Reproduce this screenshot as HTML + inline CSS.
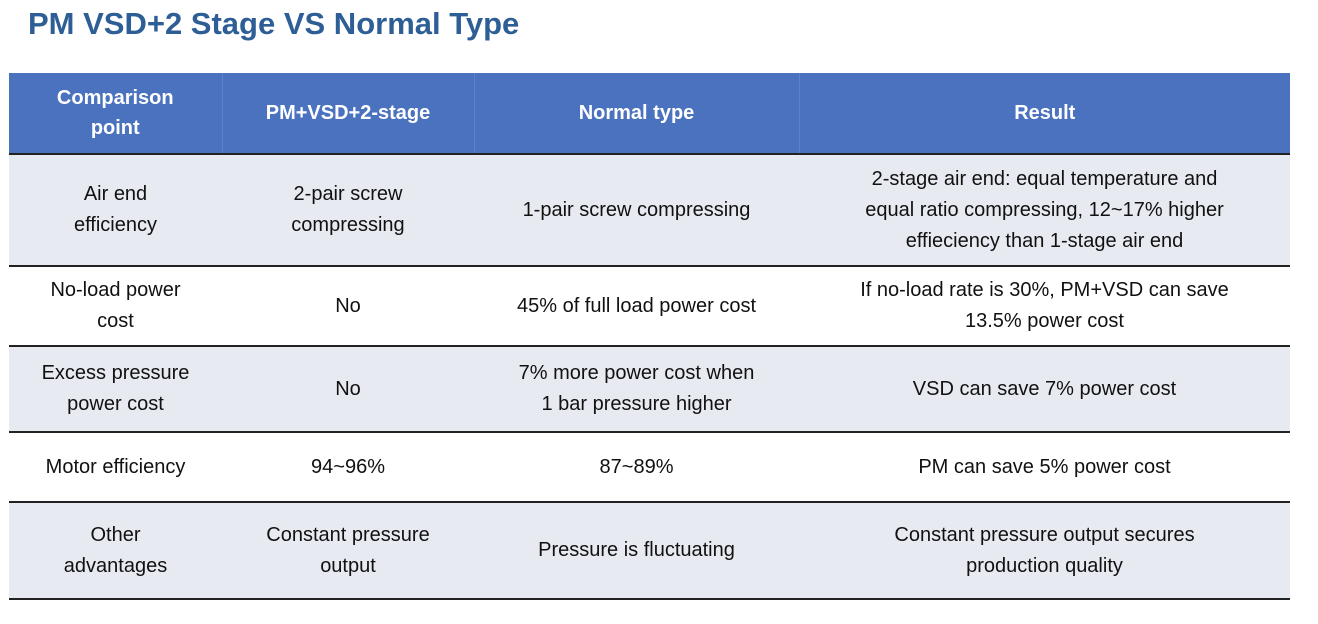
<!DOCTYPE html>
<html><head><meta charset="utf-8"><style>
body{margin:0;width:1318px;height:624px;background:#fff;position:relative;overflow:hidden;font-family:"Liberation Sans",sans-serif}
#title{position:absolute;left:28px;top:6px;font-size:31px;font-weight:bold;color:#2E5E96;letter-spacing:0px}
table{position:absolute;left:9px;top:73px;width:1281px;border-collapse:collapse;table-layout:fixed}
th{background:#4A72BE;color:#fff;font-weight:bold;font-size:20px;height:80px;padding:0 6px;border-right:1px solid #5E82C8;line-height:30px}
th:last-child{border-right:none}
td{font-size:20px;color:#111;text-align:center;padding:0 8px;line-height:31px;border-bottom:2px solid #222}
thead tr{border-bottom:2px solid #222}
tr.l td{background:#E8EAF2}
</style></head><body>
<div id="title">PM VSD+2 Stage VS Normal Type</div>
<table>
<colgroup><col style="width:213px"><col style="width:252px"><col style="width:325px"><col style="width:491px"></colgroup>
<thead><tr>
<th>Comparison<br>point</th>
<th>PM+VSD+2-stage</th>
<th>Normal type</th>
<th>Result</th></tr></thead>
<tbody>
<tr class="l" style="height:112px"><td>Air end<br>efficiency</td><td>2-pair screw<br>compressing</td><td>1-pair screw compressing</td><td>2-stage air end: equal temperature and<br>equal ratio compressing, 12~17% higher<br>effieciency than 1-stage air end</td></tr>
<tr style="height:80px"><td>No-load power<br>cost</td><td>No</td><td>45% of full load power cost</td><td>If no-load rate is 30%, PM+VSD can save<br>13.5% power cost</td></tr>
<tr class="l" style="height:86px"><td>Excess pressure<br>power cost</td><td>No</td><td>7% more power cost when<br>1 bar pressure higher</td><td>VSD can save 7% power cost</td></tr>
<tr style="height:70px"><td>Motor efficiency</td><td>94~96%</td><td>87~89%</td><td>PM can save 5% power cost</td></tr>
<tr class="l" style="height:97px"><td>Other<br>advantages</td><td>Constant pressure<br>output</td><td>Pressure is fluctuating</td><td>Constant pressure output secures<br>production quality</td></tr>
</tbody></table>
</body></html>
